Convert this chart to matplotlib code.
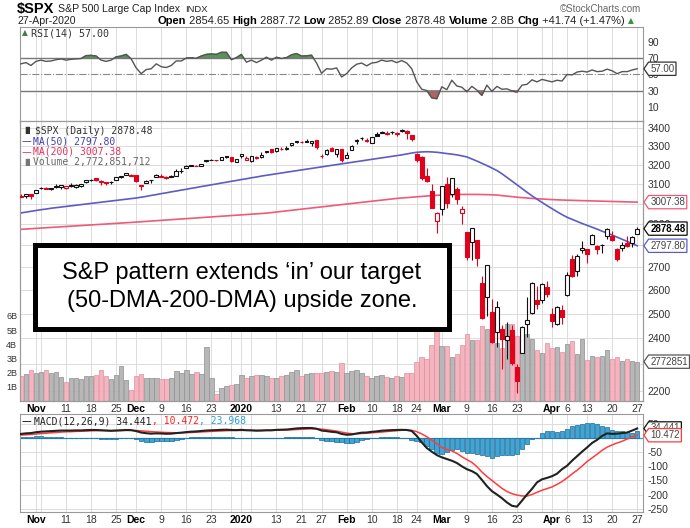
import numpy as np
import matplotlib
matplotlib.use('Agg')
import matplotlib.pyplot as plt
import matplotlib.transforms as mtransforms
from matplotlib.path import Path
from matplotlib.patches import Rectangle
from matplotlib.lines import Line2D

plt.rcParams['font.family'] = ['Liberation Sans', 'DejaVu Sans']

# trading days shown on the chart
trading_days = {
    '2019-10': [29, 30, 31],
    '2019-11': [1, 4, 5, 6, 7, 8, 11, 12, 13, 14, 15, 18, 19, 20, 21, 22, 25, 26, 27, 29],
    '2019-12': [2, 3, 4, 5, 6, 9, 10, 11, 12, 13, 16, 17, 18, 19, 20, 23, 24, 26, 27, 30, 31],
    '2020-01': [2, 3, 6, 7, 8, 9, 10, 13, 14, 15, 16, 17, 21, 22, 23, 24, 27, 28, 29, 30, 31],
    '2020-02': [3, 4, 5, 6, 7, 10, 11, 12, 13, 14, 18, 19, 20, 21, 24, 25, 26, 27, 28],
    '2020-03': [2, 3, 4, 5, 6, 9, 10, 11, 12, 13, 16, 17, 18, 19, 20, 23, 24, 25, 26, 27, 30, 31],
    '2020-04': [1, 2, 3, 6, 7, 8, 9, 13, 14, 15, 16, 17, 20, 21, 22, 23, 24, 27],
}
dates = ['%s-%02d' % (m, d) for m, ds in trading_days.items() for d in ds]

close_before = 3039.42

opens = [3035.39, 3039.74, 3046.90,
         3050.72, 3078.96, 3080.80, 3075.10, 3087.02, 3081.25, 3080.33, 3089.28, 3084.18, 3090.75,
         3107.92, 3117.91, 3127.45, 3114.66, 3108.49, 3111.41, 3117.44, 3134.85, 3145.49, 3147.18,
         3143.85, 3087.41, 3103.50, 3119.21, 3134.62, 3141.86, 3135.36, 3135.75, 3141.23, 3166.65,
         3183.63, 3195.40, 3195.21, 3192.32, 3223.33, 3226.05, 3225.45, 3227.20, 3247.23, 3240.09, 3215.18,
         3244.67, 3226.36, 3217.55, 3241.86, 3238.59, 3266.03, 3281.81, 3271.13, 3285.35, 3282.27,
         3302.97, 3323.66, 3321.03, 3330.02, 3315.77, 3333.10, 3247.16, 3255.35, 3289.46, 3256.45, 3282.33,
         3235.66, 3280.61, 3324.91, 3344.92, 3335.54, 3318.28, 3365.87, 3370.50, 3365.90, 3378.08,
         3369.04, 3380.39, 3380.45, 3360.50, 3257.61, 3238.94, 3139.90, 3062.54, 2916.90,
         2974.28, 3096.46, 3045.75, 3075.70, 2954.20, 2863.89, 2813.48, 2825.60, 2630.86, 2569.99,
         2508.59, 2425.66, 2436.50, 2393.48, 2431.94, 2290.71, 2344.44, 2457.77, 2501.29, 2555.87, 2558.98, 2614.69,
         2498.08, 2458.54, 2514.92, 2578.28, 2738.65, 2685.00, 2776.99, 2782.46, 2805.10, 2795.64,
         2799.34, 2842.43, 2845.62, 2784.81, 2787.89, 2810.42, 2812.64, 2854.65]
highs = [3047.87, 3050.10, 3046.90,
         3066.95, 3085.20, 3083.95, 3078.34, 3097.77, 3093.09, 3088.33, 3102.61, 3098.06, 3098.20,
         3120.46, 3124.17, 3127.64, 3118.97, 3110.11, 3112.87, 3133.83, 3142.69, 3154.26, 3150.30,
         3144.31, 3094.97, 3119.38, 3119.45, 3150.60, 3148.87, 3142.12, 3143.98, 3176.28, 3182.68,
         3197.71, 3198.22, 3198.48, 3205.48, 3225.65, 3227.78, 3226.43, 3240.08, 3247.93, 3240.92, 3231.72,
         3258.14, 3246.15, 3246.84, 3244.91, 3267.07, 3275.58, 3282.99, 3288.13, 3294.25, 3298.66,
         3317.11, 3329.88, 3329.79, 3337.77, 3326.88, 3333.18, 3258.85, 3285.78, 3293.47, 3285.91, 3282.33,
         3268.44, 3306.92, 3337.58, 3347.96, 3341.42, 3352.26, 3375.63, 3381.47, 3385.09, 3380.69,
         3375.01, 3393.52, 3389.15, 3360.76, 3259.81, 3246.99, 3182.51, 3097.07, 2959.72,
         3090.96, 3136.72, 3130.97, 3083.04, 2985.93, 2863.89, 2882.59, 2825.60, 2660.95, 2711.33,
         2562.98, 2553.93, 2453.57, 2466.97, 2453.01, 2300.73, 2449.71, 2571.42, 2637.01, 2615.91, 2631.80, 2641.39,
         2522.75, 2533.22, 2538.18, 2676.85, 2756.89, 2760.75, 2818.57, 2782.46, 2851.85, 2801.88,
         2806.51, 2879.22, 2868.98, 2785.54, 2815.10, 2844.90, 2842.71, 2887.72]
lows = [3034.81, 3025.96, 3023.19,
        3050.72, 3074.87, 3072.15, 3065.89, 3080.23, 3073.58, 3075.82, 3084.73, 3078.80, 3083.26,
        3104.60, 3112.06, 3113.47, 3091.41, 3094.55, 3099.26, 3117.44, 3131.00, 3143.41, 3139.34,
        3110.78, 3070.33, 3102.53, 3103.76, 3134.62, 3135.46, 3126.09, 3133.21, 3138.47, 3156.51,
        3183.63, 3191.03, 3191.14, 3192.32, 3216.03, 3222.30, 3220.51, 3227.20, 3234.37, 3216.57, 3212.03,
        3235.53, 3222.34, 3214.64, 3232.43, 3236.67, 3263.67, 3260.86, 3268.43, 3277.19, 3280.69,
        3302.82, 3318.86, 3316.61, 3320.04, 3301.87, 3281.53, 3234.50, 3253.22, 3271.89, 3242.80, 3214.68,
        3235.66, 3280.61, 3313.75, 3334.39, 3322.12, 3317.77, 3352.72, 3369.72, 3360.52, 3366.15,
        3355.61, 3378.83, 3341.02, 3328.45, 3214.65, 3118.77, 3108.99, 2977.39, 2855.84,
        2945.19, 2976.63, 3034.38, 2999.83, 2901.54, 2734.43, 2734.00, 2707.22, 2478.86, 2492.37,
        2380.94, 2367.04, 2280.52, 2319.78, 2295.56, 2191.86, 2344.44, 2407.53, 2500.72, 2520.02, 2545.28, 2571.15,
        2447.49, 2455.79, 2459.96, 2574.57, 2657.67, 2663.30, 2762.36, 2721.17, 2805.10, 2761.54,
        2764.32, 2830.88, 2820.43, 2727.10, 2775.95, 2794.26, 2791.76, 2852.89]
closes = [3036.89, 3046.77, 3037.56,
          3066.91, 3078.27, 3074.62, 3076.78, 3085.18, 3093.08, 3087.01, 3091.84, 3094.04, 3096.63,
          3120.46, 3122.03, 3120.18, 3108.46, 3103.54, 3110.29, 3133.64, 3140.52, 3153.63, 3140.98,
          3113.87, 3093.20, 3112.76, 3117.43, 3145.91, 3135.96, 3132.52, 3141.63, 3168.57, 3168.80,
          3191.45, 3192.52, 3191.14, 3205.37, 3221.22, 3224.01, 3223.38, 3239.91, 3240.02, 3221.29, 3230.78,
          3257.85, 3234.85, 3246.28, 3237.18, 3253.05, 3274.70, 3265.35, 3288.13, 3283.15, 3289.29,
          3316.81, 3329.62, 3320.79, 3321.75, 3325.54, 3295.47, 3243.63, 3276.24, 3273.40, 3283.66, 3225.52,
          3248.92, 3297.59, 3334.69, 3345.78, 3327.71, 3352.09, 3357.75, 3379.45, 3373.94, 3380.16,
          3370.29, 3386.15, 3373.23, 3337.75, 3225.89, 3128.21, 3116.39, 2978.76, 2954.22,
          3090.23, 3003.37, 3130.12, 3023.94, 2972.37, 2746.56, 2882.23, 2741.38, 2480.64, 2711.02,
          2386.13, 2529.19, 2398.10, 2409.39, 2304.92, 2237.40, 2447.33, 2475.56, 2630.07, 2541.47, 2626.65, 2584.59,
          2470.50, 2526.90, 2488.65, 2663.68, 2659.41, 2749.98, 2789.82, 2761.63, 2846.06, 2783.36,
          2799.55, 2874.56, 2823.16, 2736.56, 2799.31, 2797.80, 2836.74, 2878.48]

# volume in billions
volume = [1.75, 1.9, 2.15, 1.95, 2.05, 2.2, 1.95, 2.05, 1.7, 1.35, 1.6, 1.6, 1.55,
          1.75, 1.75, 1.85, 2.15, 1.75, 1.55, 1.85, 2.45, 1.45, 0.8,
          1.75, 1.9, 1.65, 1.6, 1.6, 1.55, 1.55, 1.6, 2.1, 1.95,
          2.15, 1.9, 2.05, 1.9, 3.8, 1.6, 0.5, 0.95, 1.05, 1.15,
          1.2, 1.8, 1.65, 1.75, 1.85, 1.85, 1.75, 1.6, 1.65, 1.75,
          1.8, 2.05, 2.15, 1.75, 1.9, 2.0, 2.0, 1.95, 2.05, 2.1,
          2.05, 2.65, 2.0, 2.1, 2.15, 1.95, 1.75, 1.65, 1.75, 1.8,
          1.7, 1.65, 1.75,
          1.7, 2.0, 2.0, 2.75, 3.1, 2.95, 3.95, 5.0, 3.9, 3.9, 3.1, 3.3, 3.95, 4.7, 4.3, 4.3,
          5.3, 5.05, 4.3, 4.1, 3.7, 5.4, 5.4, 4.6, 4.9, 4.7, 4.4, 3.6, 3.35, 4.05, 3.75, 3.8,
          3.45, 4.0, 4.2, 3.3, 4.4, 2.87, 3.15, 3.1, 3.2, 3.6, 2.95, 3.1, 2.8, 2.95, 2.8, 2.77]

ma50 = [2954, 2958, 2962, 2966, 2970, 2973, 2977, 2980, 2983, 2986, 2989, 2992, 2995,
        2998, 3001, 3004, 3007, 3010, 3013, 3016, 3019, 3022, 3025,
        3028, 3032, 3036, 3041, 3045, 3050, 3054, 3059, 3063, 3068,
        3072, 3077, 3081, 3086, 3090, 3095, 3099, 3104, 3108, 3113,
        3117, 3122, 3126, 3131, 3135, 3140, 3144, 3148, 3152, 3156,
        3160, 3164, 3168, 3172, 3176, 3180, 3184, 3188, 3192, 3196,
        3200, 3204, 3208, 3212, 3216, 3220, 3224, 3228, 3232, 3236,
        3240, 3244, 3248, 3252, 3257, 3262, 3266, 3268, 3269, 3268,
        3266, 3263, 3259, 3256, 3252, 3247,
        3241, 3230, 3219, 3207, 3195, 3182, 3169, 3152, 3133, 3114, 3095, 3076, 3057, 3039,
        3022, 3006, 2990, 2975, 2960, 2946, 2933, 2923, 2913, 2903, 2894, 2885, 2876, 2866,
        2857, 2848, 2838, 2828, 2818, 2808, 2797.80]

ma200 = [2875, 2876.5, 2878, 2879.5, 2881, 2882.5, 2884, 2885.5, 2887, 2888.5, 2890, 2891.5, 2893,
         2894.5, 2896, 2897.5, 2899, 2900.5, 2902, 2903.5, 2905, 2906.5, 2908,
         2909.6, 2911.3, 2913, 2914.6, 2916.3, 2918, 2919.6, 2921.3, 2923, 2924.6,
         2926.3, 2928, 2929.6, 2931.3, 2933, 2934.6, 2936.3, 2938, 2939.6, 2941.3,
         2943, 2944.6, 2946.3, 2948, 2949.6, 2951.3, 2953,
         2955.8, 2958.6, 2961.4, 2964.2, 2967, 2969.8, 2972.6, 2975.4, 2978.2, 2981,
         2983.8, 2986.6, 2989.4, 2992.2, 2995, 2997.8, 3000.6, 3003.4, 3006.2, 3009,
         3011.8, 3014.6, 3017.4, 3020.2, 3023, 3026,
         3028, 3030, 3032, 3034, 3036, 3038, 3040, 3041.5, 3043, 3044, 3045, 3045.5,
         3046, 3046, 3046, 3046, 3045.5, 3045, 3044, 3043, 3040, 3037.5, 3035, 3032,
         3030, 3028, 3026, 3024.5, 3023, 3021.5, 3020, 3019, 3018, 3017,
         3016.3, 3015.6, 3014.9, 3014.2, 3013.5, 3012.8, 3012.1, 3011.4, 3010.7, 3010,
         3009.3, 3008.6, 3008, 3007.38]

rsi = [63, 64.5, 61, 66, 67.5, 66, 66.5, 68, 69, 67.5, 68.5, 69, 69.5,
       73, 73.3, 72.5, 67.5, 66, 67.5, 71.5, 72.5, 74.5, 69,
       58, 51, 56, 57, 63, 59.5, 58.5, 61, 66.5, 66.5,
       70, 70.2, 69.8, 72.5, 74.5, 75, 74.5, 77, 77, 68,
       70.5, 74.5, 65, 67.5, 64.5, 67.5, 71, 67.5, 71, 69.5,
       70.5, 74, 75.5, 72.5, 72.8, 73.5, 64, 51.5, 57, 56.5,
       58, 47, 51, 58, 62.5, 64, 60.5, 64, 64.8, 67.5,
       66, 67, 64.5, 67, 64, 57, 41, 32, 30.5, 21.5,
       20.5, 35, 31.5, 43, 36, 34.5, 29, 35.5, 31, 24.5,
       37, 29.5, 35.5, 32, 32.5, 30, 28.5, 37, 38, 43.5,
       41, 44, 42.5, 41, 43, 42, 50, 49.5, 53, 54,
       53, 55.5, 53.5, 54, 56.5, 54.5, 51, 53.5, 53.5, 55.5, 57]

macd = [15, 17, 18, 21, 23, 24, 25, 26, 27, 27, 27, 27.5, 27.5,
        28.5, 29, 29, 28, 27, 26, 27, 28, 29, 28.5,
        25, 20, 17.5, 16, 17, 16.5, 15.5, 16, 18, 19.5,
        21.5, 23, 24, 25.5, 27, 28, 28.5, 29.5, 30, 29,
        28.5, 29.5, 28, 27.5, 26.5, 27, 28, 28, 29.5, 30,
        30.5, 32.5, 34.5, 35.5, 36, 36, 33.5, 27, 25, 22.5,
        21, 15, 12, 13, 16.5, 19.5, 20, 22.5, 24, 26.5,
        27.5, 28.5, 29, 29.5, 29, 25.5,
        8, -15, -35, -48, -60, -68, -74, -80, -88, -100, -110, -117, -127, -148, -170,
        -188, -200, -213, -228, -240, -243, -222, -200, -180, -157, -146, -141, -135, -126,
        -110, -98, -80, -64, -48, -33, -17, -6, 8, 17, 15, 16, 18, 20, 27, 34.441]
signal = [11, 12, 13, 14.5, 16, 17.5, 19, 20, 21.5, 22.5, 23, 24, 24.5,
          25, 26, 26.5, 27, 27, 27, 27, 27, 27.5, 27.5,
          27, 26, 24.5, 23, 22, 21, 20, 19.5, 19, 19,
          19.5, 20, 21, 22, 23, 24, 25, 25.5, 26.5, 27,
          27.5, 27.5, 28, 28, 27.5, 27.5, 27.5, 27.5, 28, 28.5,
          29, 29.5, 30.5, 31.5, 32.5, 33, 33, 32,
          30, 27.5, 25, 21.5, 18, 16, 15.5, 16.5, 17.5, 19, 20.5, 21.5, 23.5, 25, 26.5, 28, 28.5, 27.5,
          23, 15, 5, -7, -20, -33, -40, -45, -54, -66, -76, -86, -101, -120, -136,
          -150, -164, -178, -189, -197, -202, -205, -205.5, -200, -192, -185, -179, -173, -164,
          -154, -141, -127, -114, -99, -83, -70, -57, -43, -32, -24, -17, -11, -3, 4, 10.472]
hist = [4, 5, 5, 6, 6, 5, 4, 3, 3, 2, 1, 0, 0,
        0, 0, -1, -2, -3, -3, -2, -1, 0, 0,
        -3, -9, -12, -12, -11, -11, -11, -9, -6, -2,
        1, 3, 4, 4, 5, 5, 5, 5, 4, 3,
        2, 2, 1, 0, -1, 0, 1, 1, 2, 2,
        3, 4, 5, 5, 5, 4, 1, -6, -9, -11,
        -12, -15, -18, -16, -12, -8, -4, -1, 2, 3,
        4, 4, 3, 2, 0,
        -5, -9, -15, -27, -39, -52, -55, -48, -43, -39, -45, -52, -52, -55, -58, -64,
        -70, -64, -60, -58, -58, -55, -39, -21, -3, 2, 18, 24, 24, 22, 27, 33,
        42, 48, 50, 53, 55, 50, 44, 38, 30, 27, 24, 22, 20, 23.968]

tick_dates = ['2019-11-01', '2019-11-11', '2019-11-18', '2019-11-25', '2019-12-02', '2019-12-09',
              '2019-12-16', '2019-12-23', '2020-01-02', '2020-01-13', '2020-01-21', '2020-01-27',
              '2020-02-03', '2020-02-10', '2020-02-18', '2020-02-24', '2020-03-02', '2020-03-09',
              '2020-03-16', '2020-03-23', '2020-04-01', '2020-04-06', '2020-04-13', '2020-04-20',
              '2020-04-27']
tick_text = ['Nov', '11', '18', '25', 'Dec', '9', '16', '23', '2020', '13', '21', '27',
             'Feb', '10', '18', '24', 'Mar', '9', '16', '23', 'Apr', '6', '13', '20', '27']
extra_grid = ['2019-11-04', '2019-12-30', '2020-01-06', '2020-03-30']

n = len(dates)
x = np.arange(n)
tick_pos = [dates.index(d) for d in tick_dates]
grid_pos = [dates.index(d) for d in extra_grid]

RED = '#e3001b'
BLACK = '#111111'
GRID = '#dcdcdc'
SPINE = '#9a9a9a'

W, H = 690, 528
fig = plt.figure(figsize=(6.9, 5.28), dpi=100)


def fx(px):
    return px / W


def fy(py):
    return 1 - py / H


def panel(top, bottom):
    return fig.add_axes([fx(20), fy(bottom), fx(643) - fx(20), (bottom - top) / H])


ax_rsi = panel(27, 121)
ax_vol = panel(121, 401)
ax = ax_vol.twinx()
ax_macd = panel(414, 512)

xlim = (-0.19, 124.16)
for a in (ax_rsi, ax_vol, ax_macd):
    a.set_xlim(*xlim)
    a.set_xticks(tick_pos)
    a.set_xticks(grid_pos, minor=True)
    a.grid(True, axis='x', which='both', color=GRID, lw=0.7)
    a.tick_params(axis='x', which='both', length=0, labelsize=7.5, colors='#333', pad=2)
    a.set_xticklabels(tick_text)
    for lab, t in zip(a.get_xticklabels(), tick_text):
        if not t.isdigit() or t == '2020':
            lab.set_fontweight('bold')
            lab.set_color('black')
    for s in a.spines.values():
        s.set_color(SPINE)
        s.set_linewidth(0.8)
ax_rsi.tick_params(axis='x', labelbottom=False)
for s in ax.spines.values():
    s.set_color(SPINE)
    s.set_linewidth(0.8)


def tag_shape(x0, y0, width, height, mutation_size):
    pad = 0.17 * mutation_size
    x0, y0 = x0 - pad, y0 - pad
    x1, y1 = x0 + width + 2 * pad, y0 + height + 2 * pad
    ym = (y0 + y1) / 2
    tip = x0 - (y1 - y0) * 0.35
    return Path([(tip, ym), (x0, y0), (x1, y0), (x1, y1), (x0, y1), (tip, ym)],
                [Path.MOVETO, Path.LINETO, Path.LINETO, Path.LINETO, Path.LINETO, Path.CLOSEPOLY])


def tag(owner, ytrans, yval, text, edge, tcolor='#444', weight='normal'):
    tr = mtransforms.blended_transform_factory(owner.transAxes, ytrans)
    owner.annotate(text, xy=(1, yval), xycoords=tr, xytext=(5.2, 0), textcoords='offset points',
                   ha='left', va='center', fontsize=7, color=tcolor, fontweight=weight,
                   bbox=dict(boxstyle=tag_shape, fc='white', ec=edge, lw=0.9),
                   annotation_clip=False, zorder=20)


# ---- RSI panel
rsi_a = np.array(rsi)
ax_rsi.set_ylim(-6.7, 107.9)
ax_rsi.plot(x, rsi_a, color='#555555', lw=1.0, zorder=3)
ax_rsi.fill_between(x, rsi_a, 70, where=rsi_a > 70, interpolate=True, color='#5a935a', zorder=2)
ax_rsi.fill_between(x, rsi_a, 30, where=rsi_a < 30, interpolate=True, color='#b06565', zorder=2)
ax_rsi.axhline(70, color='#777', lw=1.0)
ax_rsi.axhline(30, color='#777', lw=1.0)
ax_rsi.axhline(50, color='#888', lw=0.8, ls='-.')
ax_rsi.yaxis.tick_right()
ax_rsi.set_yticks([90, 70, 50, 30, 10])
ax_rsi.tick_params(axis='y', length=0, labelsize=7.5, colors='#333', pad=3)
tag(ax_rsi, ax_rsi.transData, rsi[-1], '%.2f' % rsi[-1], '#333')

# ---- price + volume panel
vol_top = (401 - 121) / 14.2
ax_vol.set_ylim(0, vol_top)
ax.set_yscale('log')
ax.set_ylim(2163.9, 3439.6)

prev = [close_before] + closes[:-1]
down = [c < p for c, p in zip(closes, prev)]

ax_vol.bar(x, volume, width=0.92,
           color=['#f3b5bf' if d else '#b7b7b7' for d in down],
           edgecolor=['#e48c9b' if d else '#8f8f8f' for d in down], lw=0.5, zorder=2)
ax_vol.set_yticks([1, 2, 3, 4, 5, 6])
ax_vol.set_yticklabels(['1B', '2B', '3B', '4B', '5B', '6B'])
ax_vol.tick_params(axis='y', length=0, labelsize=6.5, colors='#333', pad=2)

price_levels = [3400, 3300, 3200, 3100, 3000, 2900, 2800, 2700, 2600, 2500, 2400, 2300, 2200]
hl_tr = mtransforms.blended_transform_factory(ax_vol.transAxes, ax.transData)
for p in price_levels:
    ax_vol.add_line(Line2D([0, 1], [p, p], transform=hl_tr, color=GRID, lw=0.7, zorder=1))

# 3000, 2800 and 2300 sit behind the value tags
shown = {3000: '', 2800: '', 2300: ''}
ax.set_yticks(price_levels)
ax.set_yticklabels([shown.get(p, str(p)) for p in price_levels])
ax.yaxis.set_minor_locator(matplotlib.ticker.NullLocator())
ax.tick_params(axis='y', which='both', length=0, labelsize=7.5, colors='#333', pad=3)

ax.plot(x, ma200, color='#ee5a78', lw=1.2, zorder=2)
ax.plot(x, ma50, color='#5c5cc4', lw=1.2, zorder=2)

for i in range(n):
    o, h, l, c = opens[i], highs[i], lows[i], closes[i]
    col = RED if down[i] else BLACK
    ax.vlines(x[i], l, h, color=col, lw=0.8, zorder=3)
    ax.bar(x[i], max(abs(c - o), 0.3), bottom=min(o, c), width=0.74,
           facecolor='white' if c >= o else col, edgecolor=col, lw=0.8, zorder=4)

tag(ax, ax.transData, ma200[-1], '%.2f' % ma200[-1], '#ee5a78')
tag(ax, ax.transData, closes[-1], '%.2f' % closes[-1], BLACK, tcolor='black', weight='bold')
tag(ax, ax.transData, ma50[-1], '%.2f' % ma50[-1], '#5c5cc4')
tag(ax, ax_vol.transData, volume[-1], '2772851', '#555')

# ---- MACD panel
ax_macd.set_ylim(-262, 85.7)
ax_macd.axhline(0, color='#3a9ad0', lw=0.9, zorder=2)
ax_macd.bar(x, hist, width=0.92, color='#3ea6d6', edgecolor='#1f6a94', lw=0.5, zorder=2)
ax_macd.plot(x, signal, color='#ff3b3b', lw=1.1, zorder=3)
ax_macd.plot(x, macd, color='#222222', lw=1.5, zorder=4)
ax_macd.yaxis.tick_right()
ax_macd.set_yticks([50, 0, -50, -100, -150, -200, -250])
ax_macd.set_yticklabels(['50', '', '-50', '-100', '-150', '-200', '-250'])
ax_macd.grid(True, axis='y', color=GRID, lw=0.7)
ax_macd.set_axisbelow(True)
ax_macd.tick_params(axis='y', length=0, labelsize=7.5, colors='#333', pad=3)
tag(ax_macd, ax_macd.transData, macd[-1], '%.3f' % macd[-1], BLACK)
tag(ax_macd, ax_macd.transData, signal[-1], '%.3f' % signal[-1], '#ff3b3b')

# ---- texts
renderer = fig.canvas.get_renderer()


def chain(parts, px, py, size, family=None):
    xf = fx(px)
    for s, weight, color in parts:
        kw = dict(fontsize=size, fontweight=weight, color=color, va='center', ha='left')
        if family:
            kw['family'] = family
        t = fig.text(xf, fy(py), s, **kw)
        xf += t.get_window_extent(renderer=renderer).width / fig.bbox.width
    return xf


chain([('$SPX', 'bold', 'black')], 17, 9, 10.5)
fig.text(fx(58), fy(9.5), 'S&P 500 Large Cap Index', fontsize=7.6, va='center', color='#222')
fig.text(fx(185), fy(9.5), 'INDX', fontsize=6.8, va='center', color='#222')
fig.text(fx(641), fy(9), '\u00a9StockCharts.com', fontsize=7, va='center', ha='right', color='#666')
fig.text(fx(18), fy(20.5), '27-Apr-2020', fontsize=7.6, va='center', color='#222')
row = [('Open', 'bold', 'black'), (' 2854.65 ', 'normal', '#222'),
       ('High', 'bold', 'black'), (' 2887.72 ', 'normal', '#222'),
       ('Low', 'bold', 'black'), (' 2852.89 ', 'normal', '#222'),
       ('Close', 'bold', 'black'), (' 2878.48 ', 'normal', '#222'),
       ('Volume', 'bold', 'black'), (' 2.8B ', 'normal', '#222'),
       ('Chg', 'bold', 'black'), (' +41.74 (+1.47%) ', 'normal', '#222')]
xe = chain(row, 157, 20.5, 8)
fig.text(xe, fy(20.5), '\u25b2', fontsize=5.5, va='center', color='#2e9b3a', family='DejaVu Sans')

mono = 'DejaVu Sans Mono'
fig.text(fx(22), fy(33), '\u25b2', fontsize=5.5, va='center', color='#3f7f3f', family='DejaVu Sans')
fig.text(fx(31), fy(33), 'RSI(14) 57.00', fontsize=7.2, va='center', color='#333', family=mono)

fig.text(fx(22), fy(130.7), '\u2590\u258c', fontsize=5, va='center', color='#333', family='DejaVu Sans')
fig.text(fx(35), fy(130.7), '$SPX (Daily) 2878.48', fontsize=7, va='center', color='#333', family=mono)
fig.text(fx(22), fy(141.2), '\u2014', fontsize=7, va='center', color='#4040b0', family='DejaVu Sans')
fig.text(fx(33), fy(141.2), 'MA(50) 2797.80', fontsize=7, va='center', color='#4040b0', family=mono)
fig.text(fx(22), fy(151.7), '\u2014', fontsize=7, va='center', color='#e8305a', family='DejaVu Sans')
fig.text(fx(33), fy(151.7), 'MA(200) 3007.38', fontsize=7, va='center', color='#e8305a', family=mono)
fig.text(fx(22), fy(162.2), '\u2590\u258c', fontsize=5, va='center', color='#777', family='DejaVu Sans')
fig.text(fx(33), fy(162.2), 'Volume 2,772,851,712', fontsize=7, va='center', color='#666', family=mono)

fig.text(fx(22), fy(421), '\u2014', fontsize=7, va='center', color='black', family='DejaVu Sans')
chain([('MACD(12,26,9) 34.441', 'normal', '#222'), (', 10.472', 'normal', '#ff2020'),
       (', 23.968', 'normal', '#2aa0d8')], 34, 421, 7, family=mono)

# annotation box
fig.patches.append(Rectangle((fx(35.2), fy(329.2)), fx(449.2) - fx(35.2), (329.2 - 245.3) / H,
                             transform=fig.transFigure, facecolor='white', edgecolor='black',
                             lw=3.6, zorder=10))
fig.text(fx(242), fy(273.5), 'S&P pattern extends \u2018in\u2019 our target', fontsize=17,
         ha='center', va='center', color='black', zorder=11)
fig.text(fx(242), fy(300.5), '(50-DMA-200-DMA) upside zone.', fontsize=17,
         ha='center', va='center', color='black', zorder=11)

fig.savefig('out.png', dpi=100)
